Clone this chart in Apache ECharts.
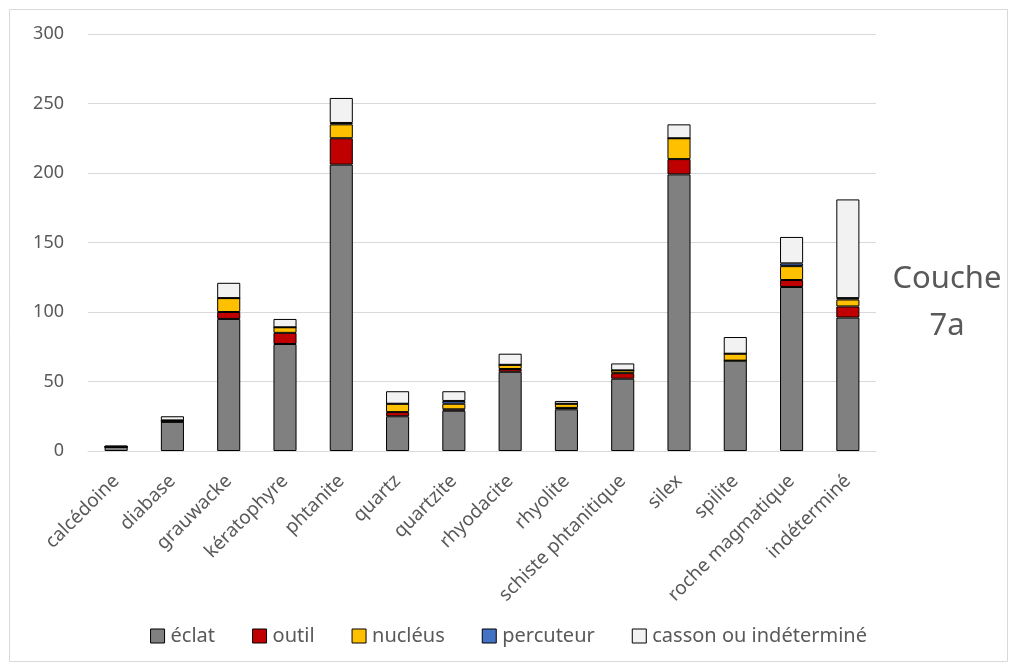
<!DOCTYPE html>
<html>
<head>
<meta charset="utf-8">
<script src="https://cdn.jsdelivr.net/npm/echarts@6/dist/echarts.min.js"></script>
<style>
html,body{margin:0;padding:0;background:#fff;}
#c{width:1017px;height:669px;}
</style>
</head>
<body>
<div id="c"></div>
<script>
const categories = ["calcédoine","diabase","grauwacke","kératophyre","phtanite","quartz","quartzite","rhyodacite","rhyolite","schiste phtanitique","silex","spilite","roche magmatique","indéterminé"];
const eclat    = [3, 21, 95, 77, 206, 25, 29, 57, 30, 52, 199, 65, 118, 96];
const outil    = [0, 0, 5, 8, 19, 3, 1, 2, 1, 4, 11, 0, 5, 8];
const nucleus  = [0, 1, 10, 4, 10, 6, 4, 3, 3, 2, 15, 5, 10, 5];
const percuteur= [0, 0, 0, 0, 1, 0, 2, 0, 0, 0, 0, 0, 2, 1];
const casson   = [1, 3, 11, 6, 18, 9, 7, 8, 2, 5, 10, 12, 19, 71];
const seriesNames = ["éclat","outil","nucléus","percuteur","casson ou indéterminé"];
const seriesColors = ["#808080","#C00000","#FFC000","#4472C4","#F2F2F2"];
const seriesData = [eclat, outil, nucleus, percuteur, casson];

const font = "Noto Sans";
const chart = echarts.init(document.getElementById('c'));
chart.setOption({
  backgroundColor: '#fff',
  animation: false,
  textStyle: {fontFamily: font},
  graphic: [
    {type:'rect', shape:{x:9.5,y:9.5,width:998,height:652}, style:{fill:'none', stroke:'#d9d9d9', lineWidth:1}},
    {type:'text', x:947, y:256, style:{text:'Couche\n7a', font:'31px "Noto Sans"', fill:'#595959', textAlign:'center', lineHeight:47}}
  ],
  grid: {left: 88, right: 141, top: 34, bottom: 218, containLabel: false},
  legend: {
    bottom: 18, left: 'center', icon: 'rect',
    itemWidth: 14, itemHeight: 14, itemGap: 37,
    textStyle: {fontSize: 20, color: '#595959', fontFamily: font, padding: [0,0,0,1]},
    data: seriesNames.map((n,i)=>({name:n, itemStyle:{color:seriesColors[i], borderColor:'#000', borderWidth:1}}))
  },
  xAxis: {
    type: 'category', data: categories,
    axisLine: {lineStyle: {color: '#d9d9d9', width: 1}},
    axisTick: {show: false},
    axisLabel: {rotate: 45, fontSize: 19, color: '#595959', margin: 27, interval: 0, fontFamily: font}
  },
  yAxis: {
    type: 'value', min: 0, max: 300, interval: 50,
    axisLine: {show: false}, axisTick: {show: false},
    splitLine: {lineStyle: {color: '#d9d9d9', width: 1}},
    axisLabel: {fontSize: 18, color: '#595959', margin: 24, fontFamily: font}
  },
  series: seriesData.map((d,i)=>({
    name: seriesNames[i], type: 'bar', stack: 'total', data: d,
    barWidth: '41%',
    itemStyle: {color: seriesColors[i], borderColor: '#000', borderWidth: 1}
  }))
});
</script>
</body>
</html>
